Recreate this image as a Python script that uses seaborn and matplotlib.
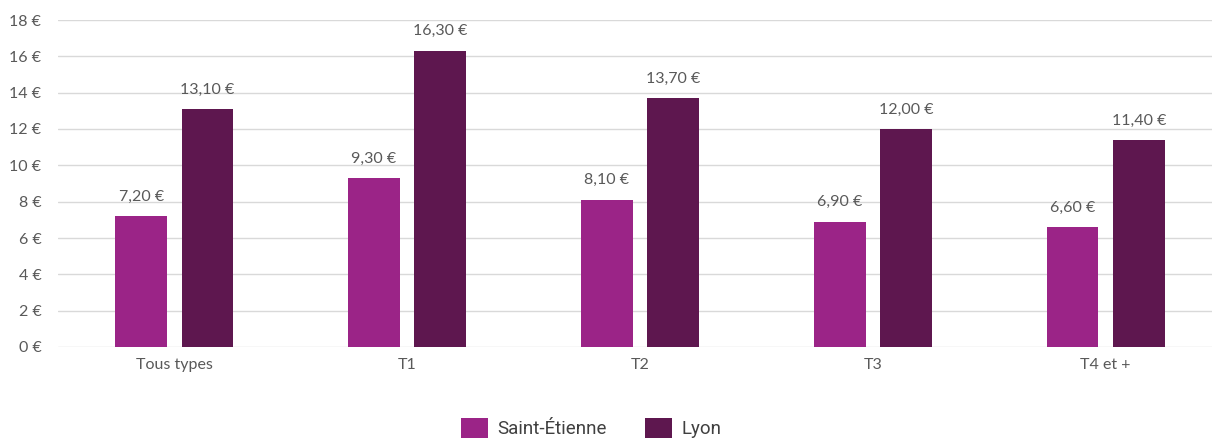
import matplotlib
matplotlib.use("Agg")
import matplotlib.pyplot as plt
import seaborn as sns
import pandas as pd
from matplotlib.patches import Patch

categories = ["Tous types", "T1", "T2", "T3", "T4 et +"]
saint_etienne = [7.20, 9.30, 8.10, 6.90, 6.60]
lyon = [13.10, 16.30, 13.70, 12.00, 11.40]
series_names = ["Saint-Étienne", "Lyon"]
colors = ["#9B2487", "#5E174F"]
yticks = [0, 2, 4, 6, 8, 10, 12, 14, 16, 18]

df = pd.DataFrame({
    "type": categories * 2,
    "value": saint_etienne + lyon,
    "ville": [series_names[0]] * len(categories) + [series_names[1]] * len(categories),
})

sns.set_theme(style="white")
plt.rcParams["font.family"] = ["Lato", "DejaVu Sans"]

W, H = 1212, 441
fig = plt.figure(figsize=(W / 100, H / 100), dpi=100)
left, right, top, bottom = 58, 1222, 20, 347
ax = fig.add_axes([left / W, 1 - bottom / H, (right - left) / W, (bottom - top) / H])

sns.barplot(data=df, x="type", y="value", hue="ville", palette=colors,
            width=0.57, gap=0.22, linewidth=0, saturation=1, ax=ax, legend=False,
            order=categories, hue_order=series_names)

ax.set_xlim(-0.5, 4.5)
ax.set_ylim(0, 18)
ax.set_yticks(yticks)
ax.set_yticklabels([f"{v} €" for v in yticks])
ax.set_xlabel("")
ax.set_ylabel("")
ax.yaxis.grid(True, color="#D9D9D9", linewidth=1)
ax.set_axisbelow(True)
for s in ax.spines.values():
    s.set_visible(False)
ax.tick_params(axis="both", length=0, labelsize=11.5, labelcolor="#595959")
ax.tick_params(axis="y", pad=12)
ax.tick_params(axis="x", pad=8)

for cont in ax.containers:
    ax.bar_label(cont, labels=[f"{v:.2f} €".replace(".", ",") for v in cont.datavalues],
                 padding=9, fontsize=11.5, color="#595959")

handles = [Patch(facecolor=c, edgecolor="none") for c in colors]
fig.legend(handles, series_names, loc="center", bbox_to_anchor=(591 / W, 1 - 428 / H),
           ncol=2, frameon=False, prop={"family": "Roboto", "size": 13.5},
           handlelength=1.45, handleheight=1.3, handletextpad=0.5, columnspacing=2.0,
           labelcolor="#404040")

fig.savefig("out.png", dpi=100)
